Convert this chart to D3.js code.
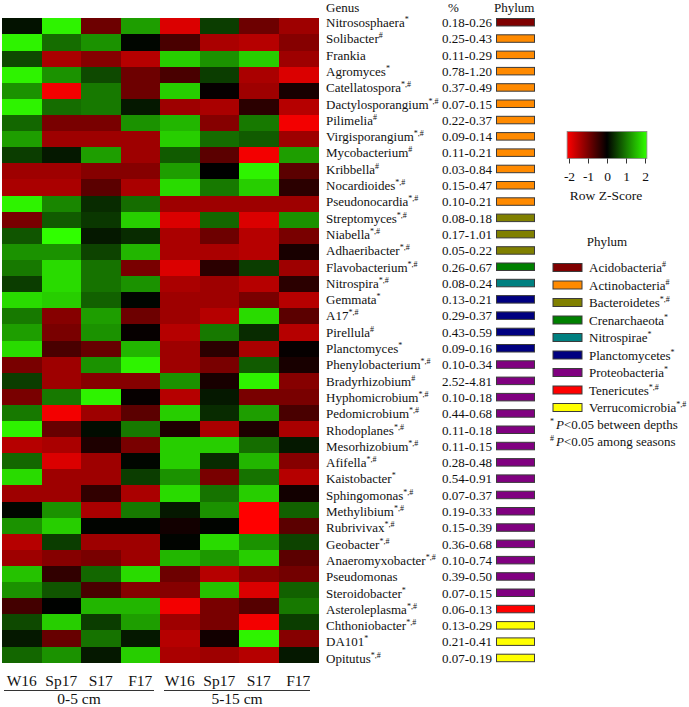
<!DOCTYPE html>
<html>
<head>
<meta charset="utf-8">
<script src="https://cdn.jsdelivr.net/npm/d3@7"></script>
<style>
  html, body { margin: 0; padding: 0; background: #fff; }
  svg { display: block; }
  text { font-family: "Liberation Serif", "Times New Roman", serif; fill: #111; }
</style>
</head>
<body>
<svg id="chart" width="689" height="707"></svg>
<script>
// ---------------- DATA ----------------
const seasons = ["W16", "Sp17", "S17", "F17", "W16", "Sp17", "S17", "F17"];
const depths = ["0-5 cm", "5-15 cm"];

const genera = ["Nitrososphaera","Solibacter","Frankia","Agromyces","Catellatospora","Dactylosporangium","Pilimelia","Virgisporangium","Mycobacterium","Kribbella","Nocardioides","Pseudonocardia","Streptomyces","Niabella","Adhaeribacter","Flavobacterium","Nitrospira","Gemmata","A17","Pirellula","Planctomyces","Phenylobacterium","Bradyrhizobium","Hyphomicrobium","Pedomicrobium","Rhodoplanes","Mesorhizobium","Afifella","Kaistobacter","Sphingomonas","Methylibium","Rubrivivax","Geobacter","Anaeromyxobacter","Pseudomonas","Steroidobacter","Asteroleplasma","Chthoniobacter","DA101","Opitutus"];

const genusSig = ["*","#","","*","*,#","*,#","#","*,#","#","#","*,#","*,#","*,#","*,#","*,#","*,#","*,#","*","*,#","#","*","*,#","#","*,#","*,#","*,#","*,#","*,#","*","*,#","*,#","*,#","*,#","*,#","","*","*,#","*,#","*","*,#"];

const pctRanges = ["0.18-0.26","0.25-0.43","0.11-0.29","0.78-1.20","0.37-0.49","0.07-0.15","0.22-0.37","0.09-0.14","0.11-0.21","0.03-0.84","0.15-0.47","0.10-0.21","0.08-0.18","0.17-1.01","0.05-0.22","0.26-0.67","0.08-0.24","0.13-0.21","0.29-0.37","0.43-0.59","0.09-0.16","0.10-0.34","2.52-4.81","0.10-0.18","0.44-0.68","0.11-0.18","0.11-0.15","0.28-0.48","0.54-0.91","0.07-0.37","0.19-0.33","0.15-0.39","0.36-0.68","0.10-0.74","0.39-0.50","0.07-0.15","0.06-0.13","0.13-0.29","0.21-0.41","0.07-0.19"];

const genusPhylum = ["Acidobacteria","Actinobacteria","Actinobacteria","Actinobacteria","Actinobacteria","Actinobacteria","Actinobacteria","Actinobacteria","Actinobacteria","Actinobacteria","Actinobacteria","Actinobacteria","Bacteroidetes","Bacteroidetes","Bacteroidetes","Crenarchaeota","Nitrospirae","Planctomycetes","Planctomycetes","Planctomycetes","Planctomycetes","Proteobacteria","Proteobacteria","Proteobacteria","Proteobacteria","Proteobacteria","Proteobacteria","Proteobacteria","Proteobacteria","Proteobacteria","Proteobacteria","Proteobacteria","Proteobacteria","Proteobacteria","Proteobacteria","Proteobacteria","Tenericutes","Verrucomicrobia","Verrucomicrobia","Verrucomicrobia"];

const phyla = ["Acidobacteria","Actinobacteria","Bacteroidetes","Crenarchaeota","Nitrospirae","Planctomycetes","Proteobacteria","Tenericutes","Verrucomicrobia"];
const phylumSig = ["#","#","*,#","*","*","*","*","*,#","*,#"];
const phylumColors = ["#7f0000","#ff8a00","#808000","#008000","#008080","#000080","#800080","#ff0000","#ffff00"];

const zTicks = [-2, -1, 0, 1, 2];

// Row z-scores (rows = genera, columns = W16,Sp17,S17,F17 at 0-5 cm then 5-15 cm)
const zScores = [
  [ 0.15, 2.0, -0.9, 1.3, -1.8, 0.5, -0.9, -1.3],
  [ 2.0, 0.9, 1.2, 0.05, -0.6, -1.4, -1.5, -1.1],
  [ 0.6, -1.4, -1.1, -1.5, 1.7, 1.2, 1.7, -1.3],
  [ 2.0, 1.2, 0.6, -0.9, -0.6, 0.5, -1.4, -1.8],
  [ 1.2, -2.0, 1.0, -0.9, 1.7, -0.05, -1.3, -0.2],
  [ 2.0, 0.9, 1.0, 0.2, -1.3, -1.4, -0.35, -1.5],
  [ 0.85, -1.0, -1.0, 1.2, 1.5, -1.1, 1.0, -2.0],
  [ 1.3, -1.3, -1.3, -1.3, 1.7, 0.9, 0.75, -1.3],
  [ 0.5, 0.2, 1.3, -1.3, 0.75, -0.75, -2.0, 1.3],
  [-1.3, -1.3, -1.1, -1.1, 1.3, 0.0, 2.0, -0.75],
  [-1.4, -1.4, -0.75, -1.4, 1.8, 1.0, 1.7, -0.35],
  [ 2.0, 1.1, 0.35, 0.9, -1.3, -1.3, -1.3, -1.3],
  [-1.0, 0.75, 0.45, 1.7, -1.8, 0.85, -1.8, 1.2],
  [ 0.7, 2.1, 0.2, 0.35, -1.4, -0.9, -1.5, -1.0],
  [ 1.2, 1.2, 0.55, 1.5, -1.4, -1.4, -1.5, -0.2],
  [ 1.0, 1.8, 0.95, -1.0, -1.8, -0.35, 0.5, -1.3],
  [ 0.5, 1.8, 0.95, 1.2, -1.4, -1.3, -1.5, -0.35],
  [ 1.8, 1.7, 0.8, 0.05, -1.3, -1.3, -1.0, -1.5],
  [ 1.0, -1.1, 1.3, -0.9, -1.3, -1.5, 1.8, -0.75],
  [ 1.3, -1.0, 1.2, -0.05, -1.5, 1.0, 0.35, -1.5],
  [ 1.8, -0.6, -0.85, 1.5, -1.3, -0.35, -1.4, -0.05],
  [-1.0, -1.3, 1.2, 2.0, -1.3, -1.0, 0.75, -0.2],
  [ 0.5, -1.3, -1.1, -1.1, 1.2, -0.2, 2.0, -1.1],
  [-1.0, 1.0, 2.0, -0.05, -1.5, 0.2, -1.0, -1.0],
  [ 1.0, -2.0, -1.3, -0.75, 1.7, 0.35, 1.3, -0.6],
  [ 2.0, -0.85, 0.1, 1.0, -0.25, -1.4, -0.25, -1.4],
  [-1.5, -1.4, -0.25, -1.0, 1.7, 1.7, 0.9, 0.2],
  [ 0.85, -1.8, -1.3, 0.05, 1.7, 0.35, 1.5, -1.1],
  [ 1.8, -1.3, -1.3, 0.5, 1.2, -1.0, 0.95, -1.5],
  [-1.3, -1.3, -0.4, -1.4, 1.8, 0.95, 1.7, -0.15],
  [ 0.05, 1.2, -1.4, 1.0, 0.2, 1.2, -2.1, 0.8],
  [ 1.2, 1.7, 0.03, 0.03, -0.15, 0.03, -2.1, -0.75],
  [-1.5, 0.5, -1.3, -1.3, 0.03, 1.8, 1.2, 0.55],
  [-1.3, -1.1, -1.0, -1.3, 1.5, 1.25, 1.7, -0.75],
  [ 1.6, -0.4, 0.85, 1.8, -0.9, -1.5, -1.1, -0.95],
  [ 1.2, 0.7, -0.6, -1.1, -1.1, 1.6, -1.8, 0.8],
  [-0.55, 0.02, 1.5, 1.5, -2.0, -1.0, -0.7, 1.0],
  [ 0.6, 1.7, 0.5, 1.3, -1.3, -1.0, -2.0, 0.5],
  [ 0.2, -0.85, 0.95, 0.2, -1.5, -0.15, 2.0, -1.1],
  [ 0.85, 1.2, 0.2, 1.7, -1.4, -1.3, -1.5, 0.2]
];

// ---------------- CHART ----------------
const svg = d3.select("#chart");

const cols = d3.range(seasons.length);
const x = d3.scaleBand().domain(cols).range([2, 318]).paddingInner(0).paddingOuter(0);
const y = d3.scaleBand().domain(genera).range([18.3, 662.7]).padding(0);
const labelY = d3.scaleLinear().domain([0, genera.length - 1]).range([27, 27 + 39 * 16.3]);

const zMin = -2.1, zMax = 2.1;
const color = d3.scaleLinear()
  .domain([zMin, 0, zMax])
  .range(["#ff0000", "#000000", "#30ff00"])
  .interpolate(d3.interpolateRgb)
  .clamp(true);

// heat cells
const cells = [];
genera.forEach((g, i) => zScores[i].forEach((v, j) => cells.push({ g, j, v })));
svg.append("g").selectAll("rect").data(cells).join("rect")
  .attr("x", d => x(d.j))
  .attr("y", d => y(d.g))
  .attr("width", x.bandwidth() + 0.5)
  .attr("height", y.bandwidth() + 0.5)
  .attr("fill", d => color(d.v))
  .attr("shape-rendering", "crispEdges");

// column labels
const colAxis = d3.axisBottom(x).tickSize(0).tickFormat(i => seasons[i]);
const ga = svg.append("g").attr("transform", "translate(0,672)").call(colAxis);
ga.select(".domain").remove();
ga.selectAll("text").attr("font-size", 15.5).attr("font-family", "Liberation Serif, serif").attr("fill", "#111").attr("dy", "0.71em");

// depth group lines + labels
const groups = [
  { label: depths[0], x0: 4, x1: 154 },
  { label: depths[1], x0: 164, x1: 310 }
];
groups.forEach(gr => {
  svg.append("line").attr("x1", gr.x0).attr("x2", gr.x1).attr("y1", 690.5).attr("y2", 690.5)
    .attr("stroke", "#333").attr("stroke-width", 1);
  svg.append("text").attr("x", (gr.x0 + gr.x1) / 2).attr("y", 703.5)
    .attr("text-anchor", "middle").attr("font-size", 15.5).text(gr.label);
});

// headers
svg.append("text").attr("x", 326).attr("y", 11.5).attr("font-size", 13).text("Genus");
svg.append("text").attr("x", 448).attr("y", 11.5).attr("font-size", 13).text("%");
svg.append("text").attr("x", 494).attr("y", 11.5).attr("font-size", 13).text("Phylum");

// genus labels with superscripts
const gl = svg.append("g").selectAll("text").data(genera).join("text")
  .attr("x", 326).attr("y", (d, i) => labelY(i)).attr("font-size", 13);
gl.append("tspan").text(d => d);
gl.append("tspan").attr("font-size", 8).attr("dy", -5).text((d, i) => genusSig[i]);

// percent ranges
svg.append("g").selectAll("text").data(pctRanges).join("text")
  .attr("x", 442).attr("y", (d, i) => labelY(i)).attr("font-size", 12.6)
  .attr("textLength", 50).attr("lengthAdjust", "spacingAndGlyphs")
  .text(d => d);

// phylum boxes per genus
const phylumColor = d3.scaleOrdinal().domain(phyla).range(phylumColors);
svg.append("g").selectAll("rect").data(genusPhylum).join("rect")
  .attr("x", 496.5).attr("y", (d, i) => labelY(i) - 8.5)
  .attr("width", 38).attr("height", 7.5)
  .attr("fill", d => phylumColor(d))
  .attr("stroke", "#3a3a3a").attr("stroke-width", 1);

// colour key
const defs = svg.append("defs");
const grad = defs.append("linearGradient").attr("id", "zgrad").attr("x1", "0%").attr("x2", "100%");
d3.range(0, 1.0001, 0.05).forEach(t => {
  grad.append("stop").attr("offset", (t * 100) + "%").attr("stop-color", color(zMin + t * (zMax - zMin)));
});
const kx = d3.scaleLinear().domain([-2, 2]).range([569, 645]);
svg.append("rect").attr("x", kx(zMin)).attr("y", 131.5)
  .attr("width", kx(zMax) - kx(zMin)).attr("height", 27)
  .attr("fill", "url(#zgrad)").attr("stroke", "#888").attr("stroke-width", 0.8);
const kAxis = d3.axisBottom(kx).tickValues(zTicks).tickSize(5).tickPadding(8).tickFormat(d3.format("d"));
const gk = svg.append("g").attr("transform", "translate(0,158.5)").call(kAxis);
gk.select(".domain").remove();
gk.selectAll("line").attr("stroke", "#333");
gk.selectAll("text").attr("font-size", 13.5).attr("font-family", "Liberation Serif, serif").attr("fill", "#111")
  .text(d => d < 0 ? "-" + Math.abs(d) : d);
svg.append("text").attr("x", 606).attr("y", 200).attr("text-anchor", "middle").attr("font-size", 13.5).text("Row Z-Score");

// phylum legend
svg.append("text").attr("x", 607).attr("y", 245.5).attr("text-anchor", "middle").attr("font-size", 13).text("Phylum");
const legY = d3.scaleLinear().domain([0, phyla.length - 1]).range([272, 272 + 8 * 17.5]);
const lg = svg.append("g").selectAll("g").data(phyla).join("g")
  .attr("transform", (d, i) => `translate(0,${legY(i)})`);
lg.append("rect").attr("x", 553).attr("y", -8.5).attr("width", 29).attr("height", 8)
  .attr("fill", d => phylumColor(d)).attr("stroke", "#3a3a3a").attr("stroke-width", 1);
const lt = lg.append("text").attr("x", 589).attr("y", 0).attr("font-size", 13);
lt.append("tspan").text(d => d);
lt.append("tspan").attr("font-size", 8).attr("dy", -5).text((d, i) => phylumSig[i]);

// footnotes
const notes = [
  { mark: "*", text: " between depths", y: 429 },
  { mark: "#", text: " among seasons", y: 446 }
];
notes.forEach(n => {
  const t = svg.append("text").attr("x", 550).attr("y", n.y).attr("font-size", 13);
  t.append("tspan").attr("font-size", 8).attr("dy", -5).text(n.mark);
  t.append("tspan").attr("dy", 5).attr("dx", 2).attr("font-style", "italic").text("P");
  t.append("tspan").text("<0.05" + n.text);
});
</script>
</body>
</html>
